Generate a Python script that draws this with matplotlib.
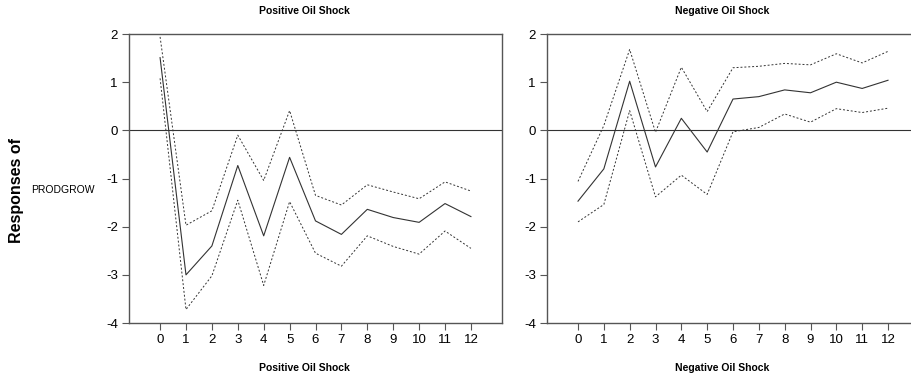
import matplotlib
matplotlib.use("Agg")
import matplotlib.pyplot as plt

plt.rcParams['font.family'] = ['Liberation Sans', 'DejaVu Sans']
plt.rcParams['axes.unicode_minus'] = False

horizon = list(range(13))

# Positive oil shock: response, upper and lower bands
pos_mid = [1.51, -3.00, -2.40, -0.73, -2.19, -0.56, -1.88, -2.16, -1.64, -1.81, -1.91, -1.52, -1.79]
pos_up = [1.94, -1.97, -1.67, -0.10, -1.04, 0.41, -1.35, -1.55, -1.13, -1.28, -1.42, -1.07, -1.26]
pos_lo = [1.08, -3.72, -3.02, -1.45, -3.22, -1.48, -2.55, -2.82, -2.19, -2.41, -2.57, -2.09, -2.45]

# Negative oil shock
neg_mid = [-1.47, -0.80, 1.02, -0.76, 0.25, -0.45, 0.65, 0.70, 0.84, 0.78, 1.00, 0.87, 1.04]
neg_up = [-1.06, 0.10, 1.68, -0.04, 1.31, 0.39, 1.30, 1.33, 1.39, 1.36, 1.59, 1.40, 1.64]
neg_lo = [-1.90, -1.54, 0.41, -1.38, -0.93, -1.33, -0.03, 0.06, 0.34, 0.17, 0.45, 0.37, 0.46]

panels = [
    ("Positive Oil Shock", pos_mid, pos_up, pos_lo, [129 / 911, 0.1522, 373 / 911, 0.7585]),
    ("Negative Oil Shock", neg_mid, neg_up, neg_lo, [547 / 911, 0.1522, 372 / 911, 0.7585]),
]

fig = plt.figure(figsize=(9.11, 3.81), dpi=100)

line_col = '#333333'
spine_col = '#555555'

for title, mid, up, lo, pos in panels:
    ax = fig.add_axes(pos)
    ax.plot(horizon, mid, color=line_col, lw=0.8)
    ax.plot(horizon, up, color=line_col, lw=0.7, linestyle=(0, (2, 2)))
    ax.plot(horizon, lo, color=line_col, lw=0.7, linestyle=(0, (2, 2)))
    ax.axhline(0, color=line_col, lw=0.8)
    ax.set_xlim(-1.2, 13.2)
    ax.set_ylim(-4, 2)
    ax.set_xticks(horizon)
    ax.set_yticks(range(-4, 3))
    ax.tick_params(direction='out', length=5, width=0.8, color=spine_col,
                   labelsize=9.5, pad=3)
    for s in ax.spines.values():
        s.set_color(spine_col)
        s.set_linewidth(1.0)
    cx = pos[0] + 175 / 911
    fig.text(cx, 1 - 11 / 381, title, ha='center', va='center',
             fontsize=7.5, fontweight='bold')
    fig.text(cx, 1 - 368 / 381, title, ha='center', va='center',
             fontsize=7.5, fontweight='bold')

fig.text(17 / 911, 1 - 190 / 381, "Responses of", rotation=90,
         ha='center', va='center', fontsize=11.5, fontweight='bold')
fig.text(31 / 911, 1 - 190 / 381, "PRODGROW", ha='left', va='center',
         fontsize=7.5)

fig.savefig("out.png", dpi=100)
